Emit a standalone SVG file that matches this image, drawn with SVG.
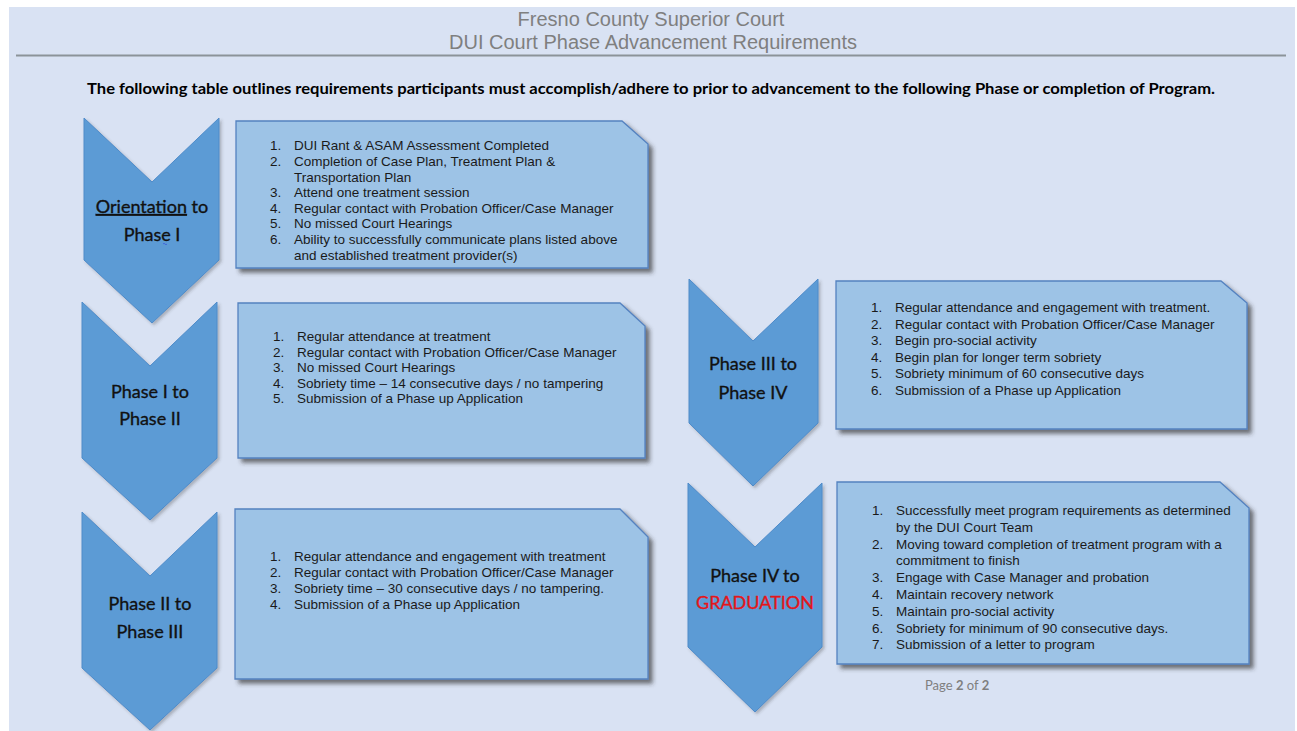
<svg xmlns="http://www.w3.org/2000/svg" width="1297" height="731" viewBox="0 0 1297 731">
<style>
.title{font-family:"Liberation Sans",Arial,sans-serif;font-size:20px;fill:#7f7f7f;text-anchor:middle}
.sub{font-family:Lato,"Open Sans",sans-serif;font-weight:bold;font-size:15.5px;fill:#000;text-anchor:middle}
.chev{fill:#5b9bd5;stroke:#4f8bc9;stroke-width:1}
.box{fill:#9dc3e6;stroke:#5482c0;stroke-width:1.3}
.ct{font-family:Lato,"Open Sans",sans-serif;font-size:18px;fill:#111;stroke:#111;stroke-width:0.35;text-anchor:middle}
.bt{font-family:"Liberation Sans",Arial,sans-serif;font-size:13.5px;fill:#1a1a1a}
.pg{font-family:Lato,"Open Sans",sans-serif;font-size:13px;fill:#7f7f7f}
</style>
<defs>
<filter id="sh" x="-10%" y="-10%" width="125%" height="130%">
<feDropShadow dx="4" dy="4" stdDeviation="2" flood-color="#333" flood-opacity="0.65"/>
</filter>
<filter id="sh2" x="-10%" y="-10%" width="125%" height="125%">
<feDropShadow dx="2" dy="2" stdDeviation="1.5" flood-color="#3a3a3a" flood-opacity="0.3"/>
</filter>
</defs>
<rect x="0" y="0" width="1297" height="731" fill="#ffffff"/>
<rect x="9" y="7" width="1286" height="724" fill="#d9e2f3"/>
<line x1="16" y1="55.5" x2="1286" y2="55.5" stroke="#8c9399" stroke-width="2"/>
<text class="title" x="651" y="26">Fresno County Superior Court</text>
<text class="title" x="653" y="49">DUI Court Phase Advancement Requirements</text>
<text class="sub" x="651" y="94" textLength="1128" lengthAdjust="spacingAndGlyphs">The following table outlines requirements participants must accomplish/adhere to prior to advancement to the following Phase or completion of Program.</text>

<g id="connectors"></g>

<g id="chevron1">
<polygon class="chev" filter="url(#sh2)" points="84,118 152,182 219,118 219,260 152,323 84,260"/>
<text class="ct" x="152" y="213"><tspan text-decoration="underline">Orientation</tspan> to</text>
<text class="ct" x="152" y="241">Phase I</text>
<path d="M163,244 q1,-1.5 2,0 t2,0" fill="none" stroke="#3b5bdb" stroke-width="0.8"/>
</g>
<g id="box1">
<polygon class="box" filter="url(#sh)" points="236,121 622,121 648,144 648,268 236,268"/>
<g transform="translate(0,1)">
<text class="bt" x="270" y="149">1.</text><text class="bt" x="294" y="149">DUI Rant &amp; ASAM Assessment Completed</text>
<text class="bt" x="270" y="165">2.</text><text class="bt" x="294" y="165">Completion of Case Plan, Treatment Plan &amp;</text>
<text class="bt" x="294" y="180.5">Transportation Plan</text>
<text class="bt" x="270" y="196">3.</text><text class="bt" x="294" y="196">Attend one treatment session</text>
<text class="bt" x="270" y="211.5">4.</text><text class="bt" x="294" y="211.5">Regular contact with Probation Officer/Case Manager</text>
<text class="bt" x="270" y="227">5.</text><text class="bt" x="294" y="227">No missed Court Hearings</text>
<text class="bt" x="270" y="243">6.</text><text class="bt" x="294" y="243">Ability to successfully communicate plans listed above</text>
<text class="bt" x="294" y="259">and established treatment provider(s)</text>
</g>
</g>

<g id="chevron2">
<polygon class="chev" filter="url(#sh2)" points="82,302 150,366 217,302 217,458 150,520 82,458"/>
<text class="ct" x="150" y="398">Phase I to</text>
<text class="ct" x="150" y="425">Phase II</text>
</g>
<g id="box2">
<polygon class="box" filter="url(#sh)" points="238,303 620,303 645,326 645,458 238,458"/>
<g transform="translate(0,1)">
<text class="bt" x="273" y="340">1.</text><text class="bt" x="297" y="340">Regular attendance at treatment</text>
<text class="bt" x="273" y="355.7">2.</text><text class="bt" x="297" y="355.7">Regular contact with Probation Officer/Case Manager</text>
<text class="bt" x="273" y="371">3.</text><text class="bt" x="297" y="371">No missed Court Hearings</text>
<text class="bt" x="273" y="387">4.</text><text class="bt" x="297" y="387">Sobriety time – 14 consecutive days / no tampering</text>
<text class="bt" x="273" y="402.3">5.</text><text class="bt" x="297" y="402.3">Submission of a Phase up Application</text>
</g>
</g>

<g id="chevron3">
<polygon class="chev" filter="url(#sh2)" points="82,512 150,576 217,512 217,668 150,730 82,668"/>
<text class="ct" x="150" y="610">Phase II to</text>
<text class="ct" x="150" y="638">Phase III</text>
</g>
<g id="box3">
<polygon class="box" filter="url(#sh)" points="235,509 620,509 648,537 648,679 235,679"/>
<g transform="translate(0,1)">
<text class="bt" x="270" y="560">1.</text><text class="bt" x="294" y="560">Regular attendance and engagement with treatment</text>
<text class="bt" x="270" y="576">2.</text><text class="bt" x="294" y="576">Regular contact with Probation Officer/Case Manager</text>
<text class="bt" x="270" y="592.3">3.</text><text class="bt" x="294" y="592.3">Sobriety time – 30 consecutive days / no tampering.</text>
<text class="bt" x="270" y="608.3">4.</text><text class="bt" x="294" y="608.3">Submission of a Phase up Application</text>
</g>
</g>

<g id="chevron4">
<polygon class="chev" filter="url(#sh2)" points="689,279 753,341 818,279 818,423 753,486 689,423"/>
<text class="ct" x="753" y="370">Phase III to</text>
<text class="ct" x="753" y="399">Phase IV</text>
</g>
<g id="box4">
<polygon class="box" filter="url(#sh)" points="836,281 1221,281 1247,303 1247,429 836,429"/>
<g transform="translate(0,1)">
<text class="bt" x="871" y="311">1.</text><text class="bt" x="895" y="311">Regular attendance and engagement with treatment.</text>
<text class="bt" x="871" y="327.5">2.</text><text class="bt" x="895" y="327.5">Regular contact with Probation Officer/Case Manager</text>
<text class="bt" x="871" y="344">3.</text><text class="bt" x="895" y="344">Begin pro-social activity</text>
<text class="bt" x="871" y="360.7">4.</text><text class="bt" x="895" y="360.7">Begin plan for longer term sobriety</text>
<text class="bt" x="871" y="377.3">5.</text><text class="bt" x="895" y="377.3">Sobriety minimum of 60 consecutive days</text>
<text class="bt" x="871" y="394">6.</text><text class="bt" x="895" y="394">Submission of a Phase up Application</text>
</g>
</g>

<g id="chevron5">
<polygon class="chev" filter="url(#sh2)" points="688,483 755,547 822,483 822,647 755,712 688,647"/>
<text class="ct" x="755" y="582">Phase IV to</text>
<text class="ct" x="755" y="609" style="fill:#e3161b;stroke:#e3161b">GRADUATION</text>
</g>
<g id="box5">
<polygon class="box" filter="url(#sh)" points="837,482 1220,482 1249,508 1249,664 837,664"/>
<g transform="translate(0,1)">
<text class="bt" x="872" y="514">1.</text><text class="bt" x="896" y="514">Successfully meet program requirements as determined</text>
<text class="bt" x="896" y="530.7">by the DUI Court Team</text>
<text class="bt" x="872" y="548">2.</text><text class="bt" x="896" y="548">Moving toward completion of treatment program with a</text>
<text class="bt" x="896" y="564.3">commitment to finish</text>
<text class="bt" x="872" y="581">3.</text><text class="bt" x="896" y="581">Engage with Case Manager and probation</text>
<text class="bt" x="872" y="597.7">4.</text><text class="bt" x="896" y="597.7">Maintain recovery network</text>
<text class="bt" x="872" y="615">5.</text><text class="bt" x="896" y="615">Maintain pro-social activity</text>
<text class="bt" x="872" y="631.7">6.</text><text class="bt" x="896" y="631.7">Sobriety for minimum of 90 consecutive days.</text>
<text class="bt" x="872" y="648.3">7.</text><text class="bt" x="896" y="648.3">Submission of a letter to program</text>
</g>
</g>

<text class="pg" x="925" y="690">Page <tspan font-weight="bold">2</tspan> of <tspan font-weight="bold">2</tspan></text>
</svg>
